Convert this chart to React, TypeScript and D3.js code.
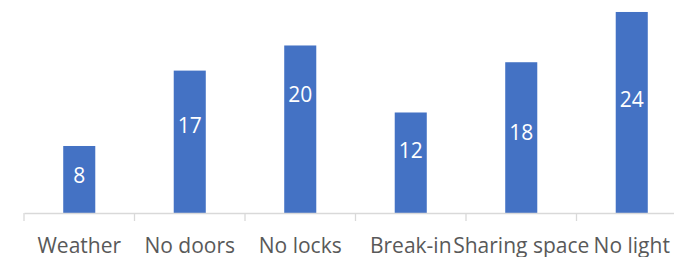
import React, { useEffect, useRef } from 'react'
import * as d3 from 'd3'

const categories = ['Weather', 'No doors', 'No locks', 'Break-in', 'Sharing space', 'No light']
const values = [8, 17, 20, 12, 18, 24]
// where each data label sits along its bar, in value units (labels were hand placed)
const labelAt = [4.5, 10.4, 14.2, 7.5, 9.6, 13.6]

const W = 674
const H = 257

export default function App() {
  const svgRef = useRef<SVGSVGElement>(null)

  useEffect(() => {
    if (!svgRef.current) return
    const svg = d3.select(svgRef.current)
    svg.selectAll('*').remove()

    const left = 24
    const step = 110.5
    const baseline = 213

    const x = d3
      .scaleBand<string>()
      .domain(categories)
      .range([left, left + step * categories.length])
      .paddingInner(0.71)
      .paddingOuter(0.355)

    const y = d3.scaleLinear().domain([0, 25]).range([baseline, 3.6])

    const font = "'Open Sans', sans-serif"

    // bars
    svg
      .append('g')
      .selectAll('rect')
      .data(values)
      .join('rect')
      .attr('x', (_, i) => x(categories[i])!)
      .attr('y', (d) => y(d))
      .attr('width', x.bandwidth())
      .attr('height', (d) => baseline - y(d))
      .attr('fill', '#4472C4')

    // category axis
    const axis = svg
      .append('g')
      .attr('transform', `translate(0,${baseline})`)
      .call(
        d3
          .axisBottom(x)
          .tickSize(0)
          .tickPadding(25),
      )
    axis.select('.domain').attr('stroke', '#D9D9D9').attr('stroke-width', 1.3)
    axis
      .selectAll('text')
      .attr('fill', '#595959')
      .style('font-family', font)
      .style('font-size', '21px')
      .attr('dy', '0.71em')

    // tick marks between categories
    const bounds = d3.range(categories.length + 1).map((i) => left + i * step)
    svg
      .append('g')
      .selectAll('line')
      .data(bounds)
      .join('line')
      .attr('x1', (d) => d)
      .attr('x2', (d) => d)
      .attr('y1', baseline)
      .attr('y2', baseline + 8)
      .attr('stroke', '#D9D9D9')
      .attr('stroke-width', 1.3)

    // value labels
    svg
      .append('g')
      .selectAll('text')
      .data(values)
      .join('text')
      .attr('x', (_, i) => x(categories[i])! + x.bandwidth() / 2)
      .attr('y', (_, i) => y(labelAt[i]))
      .attr('dy', '0.36em')
      .attr('text-anchor', 'middle')
      .attr('fill', 'white')
      .style('font-family', font)
      .style('font-size', '21px')
      .text((d) => d)
  }, [])

  return (
    <svg
      ref={svgRef}
      width={W}
      height={H}
      style={{ position: 'absolute', left: 0, top: 0, background: 'white', overflow: 'hidden' }}
    />
  )
}
